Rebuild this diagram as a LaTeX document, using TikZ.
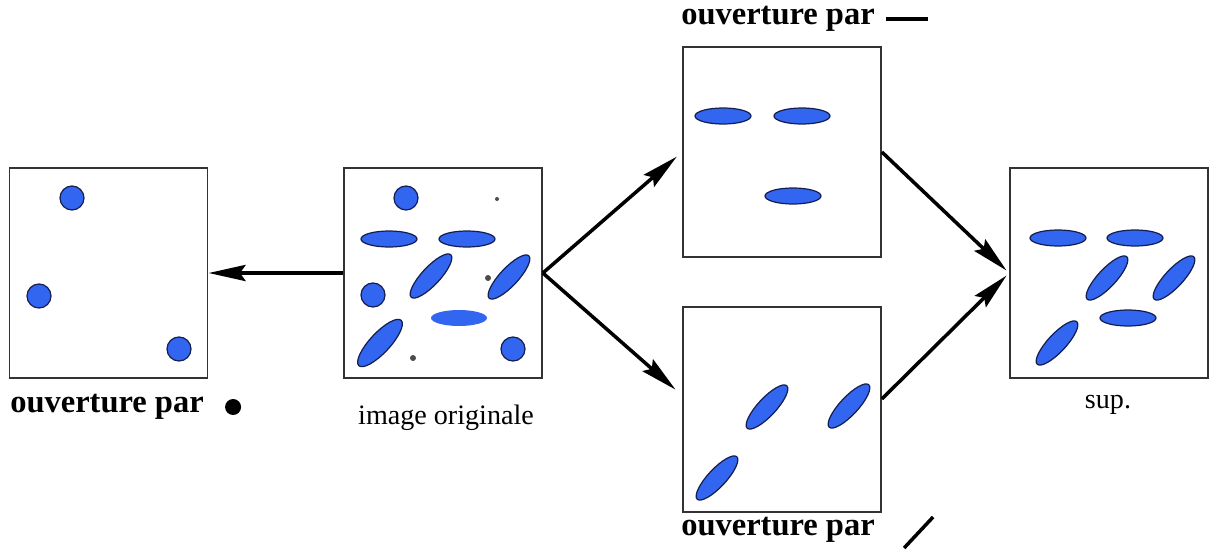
\documentclass[tikz,border=0pt]{standalone}
\usepackage{fontspec}
\setmainfont{Liberation Serif}
\usepackage{tikz}
\usetikzlibrary{arrows.meta, positioning}
\definecolor{grainblue}{RGB}{51,102,240}
\definecolor{grainedge}{RGB}{20,30,80}

\begin{document}
\begin{tikzpicture}[x=0.02cm, y=-0.02cm]

    % Styles
    \tikzset{
        imgbox/.style={rectangle, draw=black!80, line width=1pt, minimum width=3.96cm, minimum height=4.2cm, inner sep=0pt},
        grain/.style={fill=grainblue, draw=grainedge, line width=0.7pt},
        caption/.style={font=\bfseries\fontsize{18.5}{22}\selectfont, inner sep=0pt},
        plaincap/.style={font=\fontsize{16}{19}\selectfont, inner sep=0pt},
        arrow/.style={-{Stealth[length=21pt, width=9pt, inset=3pt]}, line width=2pt}
    }
    \useasboundingbox (0,0) rectangle (1209,554);

    % Image boxes
    \node[imgbox] (orig) at (443, 273) {};
    \node[imgbox] (disk) at (108.5, 273) {};
    \node[imgbox] (horiz) at (782, 152) {};
    \node[imgbox, minimum height=4.1cm] (diag) at (782, 409.5) {};
    \node[imgbox] (sup) at (1109, 273) {};

    % Captions
    \node[caption] (lbldisk) at (107, 407) {ouverture par};
    \node[plaincap] (lblorig) at (446, 418) {image originale};
    \node[caption] (lblhoriz) at (778, 19) {ouverture par};
    \node[caption] (lbldiag) at (778, 530) {ouverture par};
    \node[plaincap] (lblsup) at (1108, 405) {sup.};

    % Structuring elements
    \fill (lbldisk.east) ++(29,0) circle (8);
    \draw[line width=2pt] ([xshift=6pt]lblhoriz.east) -- ([xshift=30pt]lblhoriz.east);
    \draw[line width=2pt] (lbldiag.east) ++(29,18) -- ++(29,-31);

    % Grains
    \foreach \x/\y in {389/239, 467/239, 723/116, 802/116, 793/196, 1058/238, 1135/238, 1128/318}
        \draw[grain] (\x,\y) ellipse [x radius=28, y radius=8];
    \fill[grainblue] (459,318) ellipse [x radius=28, y radius=8];
    \foreach \x/\y in {431/276, 509/277, 767/407, 849/406, 717/478, 1107/278, 1174/278, 1057/343}
        \draw[grain, rotate around={47:(\x,\y)}] (\x,\y) ellipse [x radius=29, y radius=9];
    \draw[grain, rotate around={47:(380,343)}] (380,343) ellipse [x radius=31, y radius=10];
    \foreach \x/\y in {406/198, 373/295, 513/349, 72/198, 39/296, 179/349}
        \draw[grain] (\x,\y) circle [radius=12];

    % Noise
    \fill[black!70] (497,199) circle (2);
    \fill[black!70] (488,278) circle (3);
    \fill[black!70] (413,358) circle (3);

    % Arrows
    \draw[arrow, line width=2.8pt] (orig.west) -- (disk.east);
    \draw[arrow, shorten >=4pt] (orig.east) -- (horiz.west);
    \draw[arrow, shorten >=5pt] (orig.east) -- ([yshift=8pt]diag.west);
    \draw[arrow, shorten >=2pt] (horiz.east) -- (sup.west);
    \draw[arrow, shorten >=2pt] ([yshift=6pt]diag.east) -- (sup.west);

\end{tikzpicture}
\end{document}
